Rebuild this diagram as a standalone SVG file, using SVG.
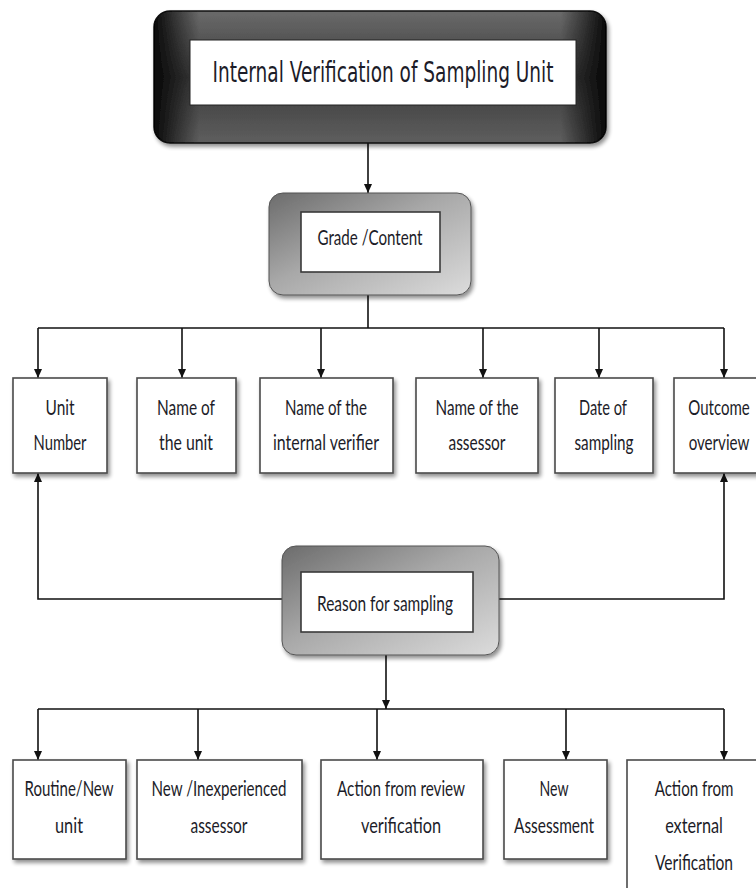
<svg xmlns="http://www.w3.org/2000/svg" width="756" height="888" viewBox="0 0 756 888">
  <defs>
    <linearGradient id="darkV" x1="0" y1="0" x2="0" y2="1">
      <stop offset="0" stop-color="#6a6a6a"/>
      <stop offset="0.5" stop-color="#3a3a3a"/>
      <stop offset="1" stop-color="#5e5e5e"/>
    </linearGradient>
    <linearGradient id="darkH" x1="0" y1="0" x2="1" y2="0">
      <stop offset="0" stop-color="#000" stop-opacity="0.9"/>
      <stop offset="0.1" stop-color="#000" stop-opacity="0"/>
      <stop offset="0.9" stop-color="#000" stop-opacity="0"/>
      <stop offset="1" stop-color="#000" stop-opacity="0.9"/>
    </linearGradient>
    <linearGradient id="grayBevel" x1="0" y1="0" x2="1" y2="1">
      <stop offset="0" stop-color="#6c6c6c"/>
      <stop offset="0.45" stop-color="#a8a8a8"/>
      <stop offset="1" stop-color="#dcdcdc"/>
    </linearGradient>
    <filter id="shadow" x="-10%" y="-10%" width="125%" height="130%">
      <feGaussianBlur in="SourceAlpha" stdDeviation="2"/>
      <feOffset dx="2" dy="3" result="b"/>
      <feComponentTransfer><feFuncA type="linear" slope="0.45"/></feComponentTransfer>
      <feMerge><feMergeNode/><feMergeNode in="SourceGraphic"/></feMerge>
    </filter>
    <marker id="arrow" markerWidth="10" markerHeight="10" refX="9" refY="4" orient="auto" markerUnits="userSpaceOnUse">
      <path d="M0,0 L9,4 L0,8 Z" fill="#111"/>
    </marker>
  </defs>
  <style>
    .box { fill: #fff; stroke: #4a4a4a; stroke-width: 1.6; }
    .inner { fill: #fff; stroke: #3a3a3a; stroke-width: 1.6; }
    .lbl { font-family: Lato, "Noto Sans", "Liberation Sans", sans-serif; font-size: 21px; fill: #1c1c28; text-anchor: middle; }
    .title { font-family: "DejaVu Sans", "Liberation Sans", sans-serif; font-size: 29px; fill: #1c1c28; text-anchor: middle; }
    .wire { fill: none; stroke: #111; stroke-width: 1.6; }
  </style>

  <rect width="756" height="888" fill="#fff"/>

  <!-- connectors -->
  <g id="connectors" class="wire">
    <path d="M368,143 V193" marker-end="url(#arrow)"/>
    <path d="M368,295 V328"/>
    <path d="M38,328 H724"/>
    <path d="M38,328 V378" marker-end="url(#arrow)"/>
    <path d="M182,328 V378" marker-end="url(#arrow)"/>
    <path d="M321,328 V378" marker-end="url(#arrow)"/>
    <path d="M483,328 V378" marker-end="url(#arrow)"/>
    <path d="M599,328 V378" marker-end="url(#arrow)"/>
    <path d="M724,328 V378" marker-end="url(#arrow)"/>
    <path d="M282,599 H38 V473" marker-end="url(#arrow)"/>
    <path d="M499,599 H724 V473" marker-end="url(#arrow)"/>
    <path d="M386,655 V709" marker-end="url(#arrow)"/>
    <path d="M38,709 H724"/>
    <path d="M38,709 V760" marker-end="url(#arrow)"/>
    <path d="M198,709 V760" marker-end="url(#arrow)"/>
    <path d="M377,709 V760" marker-end="url(#arrow)"/>
    <path d="M566,709 V760" marker-end="url(#arrow)"/>
    <path d="M724,709 V760" marker-end="url(#arrow)"/>
  </g>

  <!-- title -->
  <g id="title">
    <g filter="url(#shadow)">
      <rect x="154" y="11" width="452" height="132" rx="16" fill="url(#darkV)" stroke="#111" stroke-width="1.5"/>
      <rect x="154" y="11" width="452" height="132" rx="16" fill="url(#darkH)"/>
    </g>
    <rect x="190" y="40" width="386" height="65" fill="#fff" stroke="#222" stroke-width="1"/>
    <text class="title" x="383" y="82" textLength="341" lengthAdjust="spacingAndGlyphs">Internal Verification of Sampling Unit</text>
  </g>

  <!-- grade / content -->
  <g id="grade">
    <rect x="269" y="193" width="202" height="102" rx="14" fill="url(#grayBevel)" stroke="#555" stroke-width="1" filter="url(#shadow)"/>
    <rect class="inner" x="301" y="212" width="139" height="60"/>
    <text class="lbl" x="370" y="245" textLength="105" lengthAdjust="spacingAndGlyphs">Grade /Content</text>
  </g>

  <!-- first row -->
  <g id="unit-number">
    <rect class="box" x="13" y="378" width="94" height="95" filter="url(#shadow)"/>
    <text class="lbl" x="60" y="415" textLength="29" lengthAdjust="spacingAndGlyphs">Unit</text>
    <text class="lbl" x="60" y="450" textLength="53" lengthAdjust="spacingAndGlyphs">Number</text>
  </g>
  <g id="unit-name">
    <rect class="box" x="137" y="378" width="99" height="95" filter="url(#shadow)"/>
    <text class="lbl" x="186" y="415" textLength="58" lengthAdjust="spacingAndGlyphs">Name of</text>
    <text class="lbl" x="186" y="450" textLength="54" lengthAdjust="spacingAndGlyphs">the unit</text>
  </g>
  <g id="verifier-name">
    <rect class="box" x="260" y="378" width="133" height="95" filter="url(#shadow)"/>
    <text class="lbl" x="326" y="415" textLength="82" lengthAdjust="spacingAndGlyphs">Name of the</text>
    <text class="lbl" x="326" y="450" textLength="106" lengthAdjust="spacingAndGlyphs">internal verifier</text>
  </g>
  <g id="assessor-name">
    <rect class="box" x="416" y="378" width="122" height="95" filter="url(#shadow)"/>
    <text class="lbl" x="477" y="415" textLength="83" lengthAdjust="spacingAndGlyphs">Name of the</text>
    <text class="lbl" x="477" y="450" textLength="57" lengthAdjust="spacingAndGlyphs">assessor</text>
  </g>
  <g id="sampling-date">
    <rect class="box" x="555" y="378" width="98" height="95" filter="url(#shadow)"/>
    <text class="lbl" x="603" y="415" textLength="48" lengthAdjust="spacingAndGlyphs">Date of</text>
    <text class="lbl" x="604" y="450" textLength="59" lengthAdjust="spacingAndGlyphs">sampling</text>
  </g>
  <!-- this box runs past the right edge of the sheet -->
  <g id="outcome">
    <rect class="box" x="674" y="378" width="92" height="95" filter="url(#shadow)"/>
    <text class="lbl" transform="translate(719,415) scale(0.75,1)" textLength="82" lengthAdjust="spacingAndGlyphs">Outcome</text>
    <text class="lbl" transform="translate(719,450) scale(0.75,1)" textLength="81" lengthAdjust="spacingAndGlyphs">overview</text>
  </g>

  <!-- reason for sampling -->
  <g id="reason">
    <rect x="282" y="546" width="217" height="109" rx="14" fill="url(#grayBevel)" stroke="#555" stroke-width="1" filter="url(#shadow)"/>
    <rect class="inner" x="301" y="572" width="172" height="60"/>
    <text class="lbl" x="385" y="611" textLength="136" lengthAdjust="spacingAndGlyphs">Reason for sampling</text>
  </g>

  <!-- second row -->
  <g id="routine">
    <rect class="box" x="13" y="760" width="113" height="99" filter="url(#shadow)"/>
    <text class="lbl" x="69" y="796" textLength="89" lengthAdjust="spacingAndGlyphs">Routine/New</text>
    <text class="lbl" x="69" y="833" textLength="28" lengthAdjust="spacingAndGlyphs">unit</text>
  </g>
  <g id="inexperienced">
    <rect class="box" x="137" y="760" width="165" height="99" filter="url(#shadow)"/>
    <text class="lbl" x="219" y="796" textLength="135" lengthAdjust="spacingAndGlyphs">New /Inexperienced</text>
    <text class="lbl" x="219" y="833" textLength="57" lengthAdjust="spacingAndGlyphs">assessor</text>
  </g>
  <g id="review-action">
    <rect class="box" x="321" y="760" width="162" height="99" filter="url(#shadow)"/>
    <text class="lbl" x="401" y="796" textLength="128" lengthAdjust="spacingAndGlyphs">Action from review</text>
    <text class="lbl" x="401" y="833" textLength="80" lengthAdjust="spacingAndGlyphs">verification</text>
  </g>
  <g id="new-assessment">
    <rect class="box" x="504" y="760" width="103" height="99" filter="url(#shadow)"/>
    <text class="lbl" x="554" y="796" textLength="29" lengthAdjust="spacingAndGlyphs">New</text>
    <text class="lbl" x="554" y="833" textLength="80" lengthAdjust="spacingAndGlyphs">Assessment</text>
  </g>
  <!-- this box runs past the right and bottom edges of the sheet -->
  <g id="external-action">
    <rect class="box" x="627" y="760" width="136" height="140"/>
    <text class="lbl" transform="translate(694,796) scale(0.75,1)" textLength="105" lengthAdjust="spacingAndGlyphs">Action from</text>
    <text class="lbl" transform="translate(694,833) scale(0.75,1)" textLength="77" lengthAdjust="spacingAndGlyphs">external</text>
    <text class="lbl" transform="translate(694,870) scale(0.75,1)" textLength="104" lengthAdjust="spacingAndGlyphs">Verification</text>
  </g>
</svg>
